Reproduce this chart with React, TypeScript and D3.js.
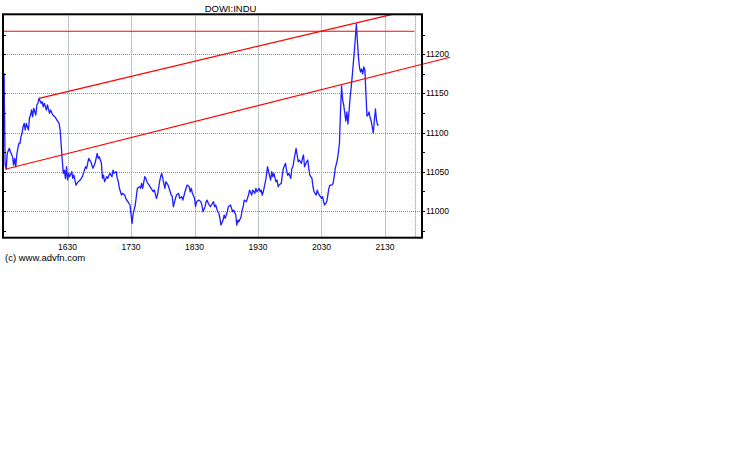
import React, { useEffect, useRef } from "react";
import * as d3 from "d3";

// minutes after 15:30, and index level
const minutes = [
  0, 1, 2, 3, 5, 6, 8, 9, 10, 11, 12, 13, 14, 15, 16, 17, 18, 19, 20, 21, 23, 24, 25, 26, 27, 28, 30, 31, 32, 33,
  35, 36, 37, 38, 40, 41, 43, 44, 46, 48, 50, 51, 52, 53, 54, 55, 56, 57, 58, 59, 60, 61, 62, 64, 65, 66, 68, 70,
  72, 74, 75, 77, 78, 80, 82, 84, 86, 88, 89, 90, 92, 93, 94, 95, 97, 98, 100, 102, 103, 104, 106, 107, 108, 109,
  111, 112, 114, 115, 116, 117, 119, 120, 121, 122, 124, 125, 126, 128, 129, 130, 131, 133, 134, 135, 137, 139,
  141, 142, 144, 145, 147, 148, 149, 150, 152, 153, 155, 157, 158, 159, 160, 162, 163, 165, 166, 168, 169, 171,
  173, 175, 176, 177, 178, 180, 181, 182, 184, 186, 187, 188, 190, 191, 192, 193, 195, 197, 198, 199, 200, 202,
  203, 204, 205, 207, 208, 209, 211, 212, 214, 215, 216, 217, 219, 220, 221, 222, 224, 225, 226, 227, 229, 230,
  231, 232, 234, 235, 237, 238, 239, 241, 242, 243, 244, 245, 247, 248, 249, 250, 252, 253, 254, 255, 257, 258,
  259, 260, 262, 263, 264, 266, 267, 268, 269, 271, 272, 273, 274, 276, 277, 278, 279, 281, 282, 283, 284, 286,
  287, 288, 289, 291, 292, 293, 295, 296, 297, 298, 300, 301, 302, 303, 305, 306, 307, 308, 310, 311, 312, 313,
  315, 316, 317, 318, 319, 320, 321, 322, 323, 324, 325, 326, 327, 328, 329, 330, 331, 332, 333, 334, 335, 336,
  337, 338, 339, 340, 341, 342, 343, 344, 345, 346, 347, 348, 349, 350, 351, 352, 353, 354,
];
const prices = [
  11176, 11060, 11053.2, 11073.6, 11080, 11075.7, 11069.3, 11058.7, 11067.3, 11056.5, 11071.5, 11080, 11086.4,
  11086, 11094.8, 11099.2, 11107.6, 11111.9, 11103.4, 11111.9, 11103.4, 11118.3, 11122.5, 11128.9, 11120.4,
  11131.1, 11122.5, 11135.3, 11137.5, 11143.8, 11137.5, 11139.5, 11133.1, 11137.5, 11128.9, 11135.3, 11124.7,
  11128.9, 11122.5, 11120.4, 11116.1, 11114, 11111.9, 11103.4, 11084.2, 11065.1, 11048.1, 11052.3, 11041.7,
  11056.5, 11039.6, 11048.1, 11043.8, 11050.2, 11041.7, 11045.9, 11033.2, 11037.4, 11039.6, 11043.8, 11048.1,
  11056.5, 11054.5, 11067.3, 11062.9, 11054.5, 11060.9, 11073.6, 11067.3, 11069.3, 11060.9, 11041.7, 11045.9,
  11037.4, 11043.8, 11041.7, 11048.1, 11043.8, 11052.3, 11048.1, 11050.2, 11041.7, 11037.4, 11029, 11020.4,
  11022.6, 11020.4, 11016.2, 11014, 11011.9, 11007.7, 10996, 10984.3, 10996.5, 11007.7, 11018.3, 11029, 11031,
  11029, 11035.4, 11029, 11043.8, 11041.7, 11037.4, 11033.2, 11029, 11024.6, 11026.8, 11016.2, 11020.4, 11037.4,
  11043.8, 11048.1, 11041.7, 11029, 11037.4, 11033.2, 11024.6, 11020.4, 11018.3, 11005.5, 11016.2, 11020.4,
  11022.6, 11016.2, 11018.3, 11014, 11024.6, 11033.2, 11031, 11024.6, 11029, 11022.6, 11016.2, 11005.5, 11011.9,
  11014, 11011.9, 11007.7, 10999.1, 11005.5, 11011.9, 11014, 11009.8, 11005.5, 11009.8, 11011.9, 11005.5,
  11007.7, 10999.1, 10997.1, 10990.7, 10982.1, 10988.5, 10994.9, 10990.7, 10999.1, 11005.5, 11007.7, 11003.4,
  10999.1, 11001.3, 10994.9, 10982.1, 10988.5, 10986.3, 10992.7, 11001.3, 11005.5, 11014, 11011.9, 11016.2,
  11020.4, 11026.8, 11020.4, 11026.8, 11022.6, 11029, 11024.6, 11029, 11024.6, 11026.8, 11020.4, 11024.6,
  11037.4, 11045.9, 11056.5, 11050.2, 11039.6, 11050.2, 11043.8, 11048.1, 11037.4, 11039.6, 11031, 11033.2,
  11035.4, 11045.9, 11054.5, 11060.9, 11052.3, 11045.9, 11048.1, 11041.7, 11054.5, 11056.5, 11065.1, 11080,
  11071.5, 11062.9, 11065.1, 11060.9, 11067.3, 11071.5, 11056.5, 11062.9, 11065.1, 11054.5, 11045.9, 11041.7,
  11031, 11024.6, 11020.4, 11026.8, 11022.6, 11020.4, 11016.2, 11018.3, 11011.9, 11007.7, 11011.9, 11020.4,
  11029, 11033.2, 11033.2, 11035.4, 11043.8, 11054.5, 11065.1, 11075.3, 11086.8, 11128.9, 11159.5, 11141.7,
  11135.3, 11125.2, 11114.9, 11126.4, 11111, 11126.4, 11144.2, 11157, 11171.1, 11187.6, 11202.9, 11220.8,
  11238.7, 11215.7, 11195.3, 11182.5, 11177.4, 11181.2, 11174.9, 11183.8, 11179.9, 11150.6, 11121.2, 11122.5,
  11126.4, 11118.7, 11114.9, 11107.2, 11099.6, 11116.1, 11130.2, 11116.1, 11109.8, 11109.8,
];

const timeTicks = [60, 120, 180, 240, 300, 360];
const timeLabels = ["1630", "1730", "1830", "1930", "2030", "2130"];
const sessionEnd = 388;
const priceTicks = [11000, 11050, 11100, 11150, 11200];
const minorPriceTicks = [10975, 11025, 11075, 11125, 11175, 11225];

// hand drawn lines: [minute, level]
const upperTrend: [number, number][] = [[33, 11143.8], [367, 11251]];
const lowerTrend: [number, number][] = [[2, 11053.6], [421.5, 11196.2]];
const resistance: [number, number][] = [[-1, 11229.4], [sessionEnd, 11229.4]];

const App: React.FC = () => {
  const ref = useRef<SVGSVGElement>(null);

  useEffect(() => {
    const svg = d3.select(ref.current);
    svg.selectAll("*").remove();

    const left = 3;
    const right = 422;
    const top = 14.3;
    const bottom = 237.7;
    const font = "'Liberation Sans', Arial, sans-serif";

    const x = d3.scaleLinear().domain([-1, 395]).range([left, right]);
    const y = d3.scaleLinear().domain([10966, 11251]).range([bottom, top]);

    // grid
    const grid = svg.append("g").attr("stroke", "#7f9090").attr("stroke-dasharray", "1,1").attr("stroke-width", 1);
    grid
      .selectAll("line.v")
      .data([...timeTicks, sessionEnd])
      .enter()
      .append("line")
      .attr("x1", (d) => Math.round(x(d)) + 0.5)
      .attr("x2", (d) => Math.round(x(d)) + 0.5)
      .attr("y1", top)
      .attr("y2", bottom);
    grid
      .selectAll("line.h")
      .data(priceTicks)
      .enter()
      .append("line")
      .attr("x1", left)
      .attr("x2", right)
      .attr("y1", (d) => Math.round(y(d)) + 0.5)
      .attr("y2", (d) => Math.round(y(d)) + 0.5);

    // price series
    const line = d3
      .line<number>()
      .x((d, i) => x(minutes[i]))
      .y((d) => y(d));
    svg
      .append("path")
      .datum(prices)
      .attr("fill", "none")
      .attr("stroke", "#1e1eff")
      .attr("stroke-width", 1.3)
      .attr("stroke-linejoin", "round")
      .attr("d", line);

    // red drawn lines
    const seg = d3
      .line<[number, number]>()
      .x((d) => x(d[0]))
      .y((d) => y(d[1]));
    [upperTrend, lowerTrend, resistance].forEach((pts) => {
      svg
        .append("path")
        .datum(pts)
        .attr("fill", "none")
        .attr("stroke", "#ff0000")
        .attr("stroke-width", 1.2)
        .attr("d", seg);
    });

    // frame
    svg
      .append("rect")
      .attr("x", left)
      .attr("y", top)
      .attr("width", right - left)
      .attr("height", bottom - top)
      .attr("fill", "none")
      .attr("stroke", "#000")
      .attr("stroke-width", 2);

    // ticks
    const allTicks = [...priceTicks, ...minorPriceTicks];
    svg
      .selectAll("line.lt")
      .data(allTicks)
      .enter()
      .append("line")
      .attr("x1", left)
      .attr("x2", left + 3)
      .attr("y1", (d) => Math.round(y(d)) + 0.5)
      .attr("y2", (d) => Math.round(y(d)) + 0.5)
      .attr("stroke", "#000");
    svg
      .selectAll("line.rt")
      .data(allTicks)
      .enter()
      .append("line")
      .attr("x1", right)
      .attr("x2", right + 3)
      .attr("y1", (d) => Math.round(y(d)) + 0.5)
      .attr("y2", (d) => Math.round(y(d)) + 0.5)
      .attr("stroke", "#000");

    // labels
    svg
      .selectAll("text.py")
      .data(priceTicks)
      .enter()
      .append("text")
      .attr("x", right + 4)
      .attr("y", (d) => y(d) + 3)
      .attr("font-family", font)
      .attr("font-size", 8.5)
      .text((d) => String(d));
    svg
      .selectAll("text.tx")
      .data(timeTicks)
      .enter()
      .append("text")
      .attr("x", (d) => x(d))
      .attr("y", 250)
      .attr("text-anchor", "middle")
      .attr("font-family", font)
      .attr("font-size", 8.5)
      .text((d, i) => timeLabels[i]);

    svg
      .append("text")
      .attr("x", 230.5)
      .attr("y", 12)
      .attr("text-anchor", "middle")
      .attr("font-family", font)
      .attr("font-size", 9.5)
      .text("DOWI:INDU");
    svg
      .append("text")
      .attr("x", 5)
      .attr("y", 261)
      .attr("font-family", font)
      .attr("font-size", 9.5)
      .text("(c) www.advfn.com");
  }, []);

  return (
    <svg
      ref={ref}
      width={738}
      height={475}
      style={{ position: "absolute", left: 0, top: 0, background: "#fff" }}
    />
  );
};

export default App;
